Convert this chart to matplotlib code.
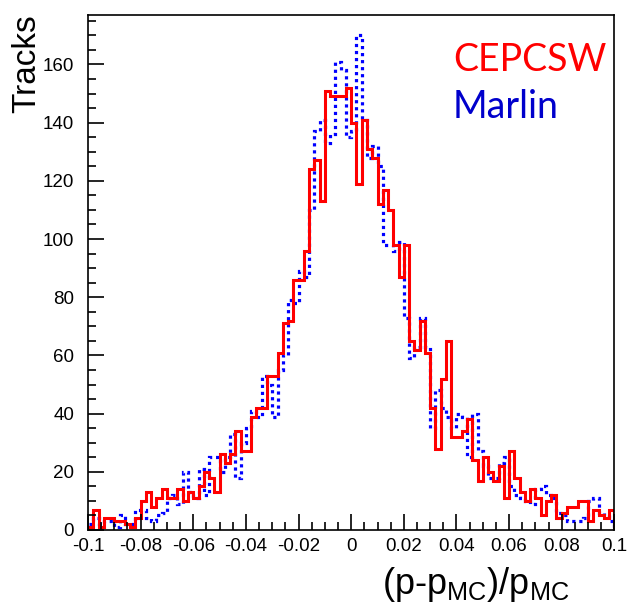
import numpy as np
import matplotlib
matplotlib.use("Agg")
import matplotlib.pyplot as plt
from matplotlib.ticker import MultipleLocator, FuncFormatter

# 100 bins from -0.1 to 0.1
x_lo, x_hi, nbins = -0.1, 0.1, 100

cepcsw = [1, 7, 1, 4, 4, 3, 3, 2, 1, 4,
          10, 13, 8, 11, 14, 11, 11, 14, 10, 13,
          11, 15, 20, 18, 13, 26, 23, 26, 34, 27,
          27, 39, 42, 42, 53, 53, 61, 71, 72, 86,
          86, 96, 124, 127, 113, 151, 149, 149, 149, 152,
          140, 119, 141, 131, 128, 112, 117, 110, 98, 87,
          98, 65, 62, 72, 61, 42, 28, 52, 65, 32,
          32, 34, 38, 24, 17, 25, 20, 17, 22, 11,
          27, 18, 13, 10, 14, 11, 5, 10, 12, 4,
          6, 8, 8, 10, 10, 3, 7, 5, 4, 7]

marlin = [2, 4, 2, 3, 3, 1, 5, 2, 2, 7,
          7, 4, 3, 5, 6, 11, 12, 9, 20, 13,
          11, 21, 12, 25, 25, 20, 25, 33, 18, 30,
          35, 41, 39, 53, 50, 39, 55, 60, 79, 78,
          89, 87, 110, 137, 141, 133, 136, 161, 158, 135,
          137, 170, 141, 128, 132, 125, 98, 98, 96, 99,
          73, 59, 63, 73, 63, 35, 48, 42, 39, 35,
          40, 39, 25, 40, 27, 22, 18, 18, 23, 25,
          15, 12, 11, 10, 9, 14, 15, 12, 11, 6,
          5, 3, 3, 3, 4, 10, 11, 6, 5, 3]

edges = np.linspace(x_lo, x_hi, nbins + 1)


def xfmt(v, p):
    v = round(v, 3)
    if abs(v) < 1e-9:
        return '0'
    return '%g' % v


plt.rcParams['font.family'] = ['Liberation Sans', 'DejaVu Sans']
plt.rcParams['mathtext.default'] = 'regular'

fig = plt.figure(figsize=(6.3, 6.14), dpi=100)
ax = fig.add_axes([88/630, (614-530)/614, (614.4-88)/630, (530-15)/614])

ax.stairs(marlin, edges, color='#0000ff', lw=2.3, linestyle=(0, (1, 1.2)), baseline=0)
ax.stairs(cepcsw, edges, color='#ff0000', lw=2.2, baseline=0)

ax.set_xlim(x_lo, x_hi)
ax.set_ylim(0, 177)

ax.xaxis.set_major_locator(MultipleLocator(0.02))
ax.xaxis.set_minor_locator(MultipleLocator(0.005))
ax.yaxis.set_major_locator(MultipleLocator(20))
ax.yaxis.set_minor_locator(MultipleLocator(5))
ax.xaxis.set_major_formatter(FuncFormatter(xfmt))
ax.yaxis.set_major_formatter(FuncFormatter(lambda v, p: '%g' % v))

ax.tick_params(which='both', direction='in', top=False, right=False, width=1.2, labelsize=13.5)
ax.tick_params(which='major', length=11.5)
ax.tick_params(which='minor', length=5.5)
ax.tick_params(axis='y', pad=10)
ax.tick_params(axis='x', pad=6)
for s in ax.spines.values():
    s.set_linewidth(1.2)

fig.text(27/630, 1 - 14/614, 'Tracks', rotation=90, fontsize=24, ha='center', va='top')
fig.text(476/630, 1 - 585/614, r'(p-p$_{MC}$)/p$_{MC}$', fontsize=26, ha='center', va='center')

fig.text(530/630, 1 - 60/614, 'CEPCSW', color='#ff0000', fontsize=27, family='Lato', ha='center', va='center')
fig.text(506/630, 1 - 107/614, 'Marlin', color='#0000cc', fontsize=27, family='Lato', ha='center', va='center')

fig.savefig('out.png', dpi=100)
